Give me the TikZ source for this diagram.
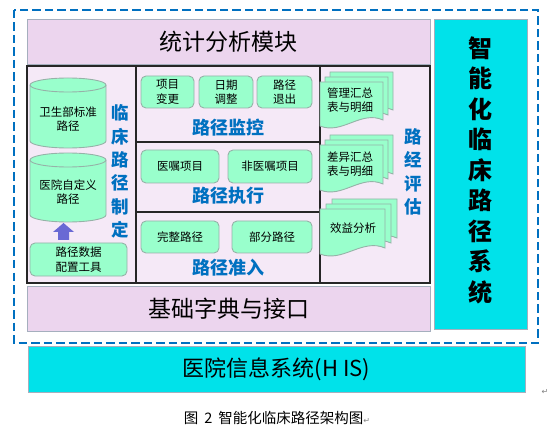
\documentclass[tikz,border=0pt]{standalone}
\usepackage{fontspec}
\setmainfont{Noto Sans CJK SC}
\newfontfamily\symfont{DejaVu Sans}
\definecolor{dashblue}{RGB}{0,112,192}
\definecolor{lilac}{RGB}{236,213,238}
\definecolor{lav}{RGB}{245,233,247}
\definecolor{cyanbox}{RGB}{0,226,234}
\definecolor{mint}{RGB}{153,255,204}
\definecolor{mintedge}{RGB}{150,178,168}
\definecolor{boxedge}{RGB}{165,175,190}
\definecolor{labelblue}{RGB}{0,112,192}
\definecolor{arrowpurple}{RGB}{105,105,212}
\newcommand\docsheet[4]{%
 \pgfmathsetmacro\dxr{#1+#3}\pgfmathsetmacro\dyb{#2+#4}%
 \pgfmathsetmacro\dyr{#2+#4-6}%
 \pgfmathsetmacro\cxa{#1+0.65*#3}\pgfmathsetmacro\cya{#2+#4-16}%
 \pgfmathsetmacro\cxb{#1+0.35*#3}\pgfmathsetmacro\cyb{#2+#4+9}%
 \filldraw[docstyle] (#1,#2) -- (\dxr,#2) -- (\dxr,\dyr) .. controls (\cxa,\cya) and (\cxb,\cyb) .. (#1,\dyb) -- cycle;}
\begin{document}
\begin{tikzpicture}[x=1pt,y=-1pt,
  panel/.style={draw=boxedge, fill=lilac, line width=0.9pt, inner sep=0, font=\fontsize{23}{26}\selectfont},
  cyanpanel/.style={draw=boxedge, fill=cyanbox, line width=0.9pt, inner sep=0},
  mintbox/.style={draw=mintedge, fill=mint, rounded corners=5pt, line width=0.9pt, inner sep=0, align=center, font=\fontsize{11.5}{14.5}\selectfont},
  bluelabel/.style={text=labelblue, font=\bfseries\fontsize{18}{20}\selectfont, inner sep=0},
  vlabel/.style={text=labelblue, font=\bfseries\fontsize{17.5}{23.4}\selectfont, align=center, inner sep=0},
  cylstyle/.style={draw=mintedge, fill=mint, line width=0.9pt},
  docstyle/.style={draw=mintedge, fill=mint, line width=0.9pt},
  divider/.style={draw=black!85, line width=1.2pt},
  plain/.style={inner sep=0, align=center, font=\fontsize{11.5}{14.5}\selectfont}]
\path[use as bounding box] (0,0) rectangle (559,430);
% outer dashed frame
\draw[dashblue, line width=2pt, dash pattern=on 8.5pt off 4pt] (14,10) rectangle (538,343);
% top and bottom panels
\node[panel, minimum width=403, minimum height=45] (stat) at (228.5,41.5) {统计分析模块};
\node[panel, minimum width=403, minimum height=45] (base) at (228.5,308.5) {基础字典与接口};
% right cyan panel
\node[cyanpanel, minimum width=93, minimum height=310] (sys) at (480.5,174) {};
\node[inner sep=0, align=center, font=\bfseries\fontsize{24}{30.5}\selectfont] (systext) at (480.5,170) {智\\能\\化\\临\\床\\路\\径\\系\\统};
% HIS panel
\node[cyanpanel, minimum width=497, minimum height=46, font=\fontsize{22}{26}\selectfont] (his) at (276.5,369) {医院信息系统(H IS)};
% middle frame
\node[draw=black!85, fill=lav, line width=1.2pt, minimum width=403, minimum height=217, inner sep=0] (frame) at (228.5,174.5) {};
\coordinate (c1t) at (136,66); \coordinate (c1b) at (136,283);
\coordinate (c2t) at (320,66); \coordinate (c2b) at (320,283);
\coordinate (h1l) at (136,142); \coordinate (h1r) at (320,142);
\coordinate (h2l) at (136,212); \coordinate (h2r) at (320,212);
\draw[divider] (c1t) -- (c1b);
\draw[divider] (c2t) -- (c2b);
\draw[divider] (h1l) -- (h1r);
\draw[divider] (h2l) -- (h2r);
% left column: cylinders
\filldraw[cylstyle] (30,85) -- (30,141) arc[start angle=180, end angle=0, x radius=38, y radius=7] -- (106,85) arc[start angle=0, end angle=-180, x radius=38, y radius=7] -- cycle;
\draw[cylstyle, fill=none] (30,85) arc[start angle=180, end angle=0, x radius=38, y radius=7];
\node[plain] (cyl1) at (68,119) {卫生部标准\\路径};
\filldraw[cylstyle] (30,160) -- (30,215) arc[start angle=180, end angle=0, x radius=38, y radius=7] -- (106,160) arc[start angle=0, end angle=-180, x radius=38, y radius=7] -- cycle;
\draw[cylstyle, fill=none] (30,160) arc[start angle=180, end angle=0, x radius=38, y radius=7];
\node[plain] (cyl2) at (68,192) {医院自定义\\路径};
% arrow
\fill[arrowpurple] (58,240) -- (69,240) -- (69,232) -- (74,232) -- (63.5,223) -- (53,232) -- (58,232) -- cycle;
\node[mintbox, minimum width=97, minimum height=33] (cfg) at (78.5,259.5) {路径数据\\配置工具};
\node[vlabel] (lab1) at (120,171.5) {临\\床\\路\\径\\制\\定};
% middle column
\node[mintbox, minimum width=53, minimum height=32] (m1) at (167.5,92) {项目\\变更};
\node[mintbox, minimum width=54, minimum height=32] (m2) at (226,92) {日期\\调整};
\node[mintbox, minimum width=55, minimum height=32] (m3) at (284.5,92) {路径\\退出};
\node[bluelabel] (lab2) at (228,128) {路径监控};
\node[mintbox, minimum width=78, minimum height=33] (e1) at (180,166.5) {医嘱项目};
\node[mintbox, minimum width=84, minimum height=33] (e2) at (270,166.5) {非医嘱项目};
\node[bluelabel] (lab3) at (228,196) {路径执行};
\node[mintbox, minimum width=78, minimum height=32] (a1) at (180,237) {完整路径};
\node[mintbox, minimum width=80, minimum height=32] (a2) at (272,237) {部分路径};
\node[bluelabel] (lab4) at (228,268) {路径准入};
% right column: documents
\docsheet{330}{72}{63}{44}
\docsheet{325}{77}{63}{44}
\docsheet{320}{82}{63}{44}
\node[plain] (d1) at (350,100) {管理汇总\\表与明细};
\docsheet{330}{135}{63}{45}
\docsheet{325}{140}{63}{45}
\docsheet{320}{145}{63}{45}
\node[plain] (d2) at (350,164) {差异汇总\\表与明细};
\docsheet{332}{199}{65}{45}
\docsheet{326}{204}{65}{45}
\docsheet{320}{209}{65}{45}
\node[plain] (d3) at (353,228) {效益分析};
\node[vlabel] (lab5) at (413,172) {路\\经\\评\\估};
% caption
\node[inner sep=0, font=\fontsize{14.5}{16}\selectfont] (cap) at (277,418) {图\hspace{6pt}2\hspace{6pt}智能化临床路径架构图{\symfont\color{gray}\fontsize{8}{8}\selectfont ↵}};
\node[inner sep=0, text=gray, font=\symfont\fontsize{8}{8}\selectfont] (ret) at (545,392) {↵};
\end{tikzpicture}
\end{document}
